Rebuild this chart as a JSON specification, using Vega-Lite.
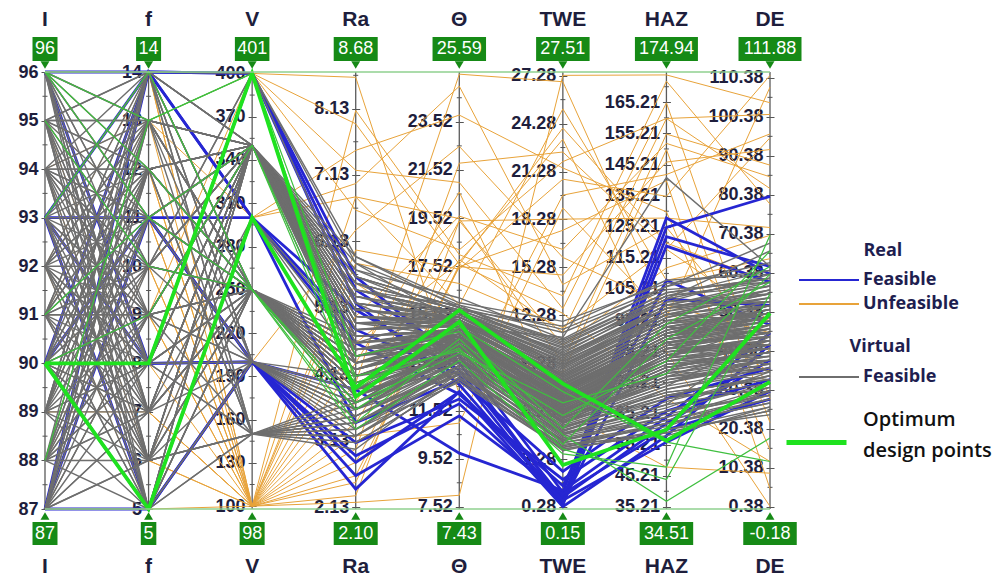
{
"$schema": "https://vega.github.io/schema/vega-lite/v6.json",
"width": 725, "height": 437,
"autosize": "none",
"padding": {"left": 45, "top": 72, "right": 238, "bottom": 68},
"background": "white",
"config": {
  "view": {"stroke": null},
  "axis": {"grid": false, "domain": false, "tickSize": 8, "tickColor": "#555555", "tickWidth": 1, "labelFont": "Liberation Sans", "labelFontWeight": "bold", "labelFontSize": 18, "labelColor": "#1e1e3c", "labelPadding": 3, "labelOverlap": false, "labelBound": false, "labelFlush": false},
  "legend": {"orient": "none", "direction": "vertical", "symbolType": "stroke", "symbolSize": 3600, "symbolStrokeWidth": 2, "labelFont": "Open Sans", "labelFontWeight": "bold", "labelFontSize": 18, "labelColor": "#1e1e50", "titleFont": "Open Sans", "titleFontWeight": "bold", "titleFontSize": 18, "titleColor": "#1e1e50", "labelOffset": 3, "padding": 0, "labelLimit": 300, "titleLimit": 300}
},
"datasets": {
  "axes": [
    {"key": "I", "title": "I", "min": 87, "max": 96, "lo": "87", "hi": "96", "ord": 0},
    {"key": "f", "title": "f", "min": 5, "max": 14, "lo": "5", "hi": "14", "ord": 1},
    {"key": "V", "title": "V", "min": 98, "max": 401, "lo": "98", "hi": "401", "ord": 2},
    {"key": "Ra", "title": "Ra", "min": 2.10, "max": 8.68, "lo": "2.10", "hi": "8.68", "ord": 3},
    {"key": "Th", "title": "Θ", "min": 7.43, "max": 25.59, "lo": "7.43", "hi": "25.59", "ord": 4},
    {"key": "TWE", "title": "TWE", "min": 0.15, "max": 27.51, "lo": "0.15", "hi": "27.51", "ord": 5},
    {"key": "HAZ", "title": "HAZ", "min": 34.51, "max": 174.94, "lo": "34.51", "hi": "174.94", "ord": 6},
    {"key": "DE", "title": "DE", "min": -0.18, "max": 111.88, "lo": "-0.18", "hi": "111.88", "ord": 7}
  ],
  "minor": [
    {"key":"I","v":87.5},{"key":"I","v":88.5},{"key":"I","v":89.5},{"key":"I","v":90.5},{"key":"I","v":91.5},{"key":"I","v":92.5},{"key":"I","v":93.5},{"key":"I","v":94.5},{"key":"I","v":95.5},
    {"key":"f","v":5.5},{"key":"f","v":6.5},{"key":"f","v":7.5},{"key":"f","v":8.5},{"key":"f","v":9.5},{"key":"f","v":10.5},{"key":"f","v":11.5},{"key":"f","v":12.5},{"key":"f","v":13.5},
    {"key":"V","v":115},{"key":"V","v":145},{"key":"V","v":175},{"key":"V","v":205},{"key":"V","v":235},{"key":"V","v":265},{"key":"V","v":295},{"key":"V","v":325},{"key":"V","v":355},{"key":"V","v":385},
    {"key":"Ra","v":2.63},{"key":"Ra","v":3.63},{"key":"Ra","v":4.63},{"key":"Ra","v":5.63},{"key":"Ra","v":6.63},{"key":"Ra","v":7.63},{"key":"Ra","v":8.63},
    {"key":"Th","v":8.52},{"key":"Th","v":10.52},{"key":"Th","v":12.52},{"key":"Th","v":14.52},{"key":"Th","v":16.52},{"key":"Th","v":18.52},{"key":"Th","v":20.52},{"key":"Th","v":22.52},{"key":"Th","v":24.52},
    {"key":"TWE","v":1.78},{"key":"TWE","v":4.78},{"key":"TWE","v":7.78},{"key":"TWE","v":10.78},{"key":"TWE","v":13.78},{"key":"TWE","v":16.78},{"key":"TWE","v":19.78},{"key":"TWE","v":22.78},{"key":"TWE","v":25.78},
    {"key":"HAZ","v":40.21},{"key":"HAZ","v":50.21},{"key":"HAZ","v":60.21},{"key":"HAZ","v":70.21},{"key":"HAZ","v":80.21},{"key":"HAZ","v":90.21},{"key":"HAZ","v":100.21},{"key":"HAZ","v":110.21},{"key":"HAZ","v":120.21},{"key":"HAZ","v":130.21},{"key":"HAZ","v":140.21},{"key":"HAZ","v":150.21},{"key":"HAZ","v":160.21},{"key":"HAZ","v":170.21},
    {"key":"DE","v":5.38},{"key":"DE","v":15.38},{"key":"DE","v":25.38},{"key":"DE","v":35.38},{"key":"DE","v":45.38},{"key":"DE","v":55.38},{"key":"DE","v":65.38},{"key":"DE","v":75.38},{"key":"DE","v":85.38},{"key":"DE","v":95.38},{"key":"DE","v":105.38}
  ],
  "lines": [
    {"id":1,"grp":"g","I":87,"f":6,"V":350,"Ra":5.2,"Th":14.1,"TWE":6.8,"HAZ":82,"DE":41},
    {"id":2,"grp":"g","I":88,"f":9,"V":250,"Ra":4.1,"Th":13.6,"TWE":5.9,"HAZ":75,"DE":38},
    {"id":3,"grp":"g","I":89,"f":12,"V":150,"Ra":3.5,"Th":13.2,"TWE":4.8,"HAZ":68,"DE":45},
    {"id":4,"grp":"g","I":90,"f":7,"V":350,"Ra":4.8,"Th":15.0,"TWE":8.2,"HAZ":92,"DE":52},
    {"id":5,"grp":"g","I":91,"f":10,"V":250,"Ra":3.9,"Th":14.5,"TWE":7.1,"HAZ":88,"DE":35},
    {"id":6,"grp":"g","I":92,"f":13,"V":200,"Ra":3.6,"Th":13.9,"TWE":5.2,"HAZ":71,"DE":30},
    {"id":7,"grp":"g","I":93,"f":6,"V":350,"Ra":5.6,"Th":15.4,"TWE":9.4,"HAZ":97,"DE":48},
    {"id":8,"grp":"g","I":94,"f":9,"V":250,"Ra":4.4,"Th":14.8,"TWE":6.3,"HAZ":84,"DE":44},
    {"id":9,"grp":"g","I":95,"f":12,"V":150,"Ra":3.2,"Th":12.9,"TWE":4.1,"HAZ":62,"DE":27},
    {"id":10,"grp":"g","I":96,"f":7,"V":350,"Ra":4.6,"Th":15.6,"TWE":10.3,"HAZ":101,"DE":55},
    {"id":11,"grp":"g","I":87,"f":13,"V":250,"Ra":3.7,"Th":14.2,"TWE":5.5,"HAZ":79,"DE":33},
    {"id":12,"grp":"g","I":88,"f":5,"V":350,"Ra":5.9,"Th":15.8,"TWE":11.2,"HAZ":105,"DE":58},
    {"id":13,"grp":"g","I":89,"f":8,"V":200,"Ra":3.3,"Th":13.4,"TWE":4.4,"HAZ":66,"DE":29},
    {"id":14,"grp":"g","I":90,"f":11,"V":350,"Ra":5.0,"Th":15.2,"TWE":7.7,"HAZ":90,"DE":47},
    {"id":15,"grp":"g","I":91,"f":14,"V":250,"Ra":4.3,"Th":14.9,"TWE":8.6,"HAZ":94,"DE":50},
    {"id":16,"grp":"g","I":92,"f":6,"V":150,"Ra":3.8,"Th":13.7,"TWE":5.0,"HAZ":73,"DE":36},
    {"id":17,"grp":"g","I":93,"f":9,"V":350,"Ra":4.9,"Th":14.6,"TWE":6.6,"HAZ":86,"DE":42},
    {"id":18,"grp":"g","I":94,"f":12,"V":250,"Ra":3.6,"Th":14.0,"TWE":6.0,"HAZ":78,"DE":39},
    {"id":19,"grp":"g","I":95,"f":5,"V":200,"Ra":3.9,"Th":13.1,"TWE":3.8,"HAZ":60,"DE":24},
    {"id":20,"grp":"g","I":96,"f":10,"V":350,"Ra":5.4,"Th":15.9,"TWE":9.8,"HAZ":99,"DE":53},
    {"id":21,"grp":"g","I":87,"f":10,"V":400,"Ra":5.8,"Th":15.1,"TWE":8.9,"HAZ":95,"DE":49},
    {"id":22,"grp":"g","I":88,"f":13,"V":350,"Ra":4.5,"Th":14.4,"TWE":7.3,"HAZ":87,"DE":46},
    {"id":23,"grp":"g","I":89,"f":6,"V":250,"Ra":4.0,"Th":13.8,"TWE":5.7,"HAZ":76,"DE":37},
    {"id":24,"grp":"g","I":90,"f":14,"V":150,"Ra":3.4,"Th":13.3,"TWE":4.6,"HAZ":64,"DE":31},
    {"id":25,"grp":"g","I":91,"f":7,"V":350,"Ra":5.3,"Th":15.5,"TWE":10.1,"HAZ":103,"DE":57},
    {"id":26,"grp":"g","I":92,"f":11,"V":250,"Ra":4.2,"Th":14.7,"TWE":7.9,"HAZ":91,"DE":51},
    {"id":27,"grp":"g","I":93,"f":14,"V":200,"Ra":3.7,"Th":14.3,"TWE":6.2,"HAZ":80,"DE":40},
    {"id":28,"grp":"g","I":94,"f":5,"V":350,"Ra":5.1,"Th":15.3,"TWE":8.4,"HAZ":93,"DE":45},
    {"id":29,"grp":"g","I":95,"f":8,"V":250,"Ra":3.8,"Th":13.5,"TWE":5.3,"HAZ":70,"DE":32},
    {"id":30,"grp":"g","I":96,"f":13,"V":150,"Ra":3.1,"Th":12.8,"TWE":4.2,"HAZ":58,"DE":26},
    {"id":31,"grp":"g","I":87,"f":7,"V":300,"Ra":4.7,"Th":14.9,"TWE":7.0,"HAZ":85,"DE":43},
    {"id":32,"grp":"g","I":88,"f":10,"V":350,"Ra":5.5,"Th":15.7,"TWE":11.6,"HAZ":108,"DE":60},
    {"id":33,"grp":"g","I":89,"f":14,"V":250,"Ra":4.6,"Th":14.6,"TWE":6.9,"HAZ":83,"DE":47},
    {"id":34,"grp":"g","I":90,"f":5,"V":200,"Ra":3.5,"Th":13.6,"TWE":5.1,"HAZ":69,"DE":34},
    {"id":35,"grp":"g","I":91,"f":8,"V":350,"Ra":4.4,"Th":14.2,"TWE":6.4,"HAZ":81,"DE":38},
    {"id":36,"grp":"g","I":92,"f":12,"V":250,"Ra":3.9,"Th":13.9,"TWE":5.8,"HAZ":77,"DE":42},
    {"id":37,"grp":"g","I":93,"f":5,"V":150,"Ra":3.6,"Th":13.0,"TWE":4.5,"HAZ":63,"DE":28},
    {"id":38,"grp":"g","I":94,"f":10,"V":350,"Ra":5.7,"Th":15.6,"TWE":9.1,"HAZ":98,"DE":54},
    {"id":39,"grp":"g","I":95,"f":13,"V":250,"Ra":4.0,"Th":14.4,"TWE":7.5,"HAZ":89,"DE":49},
    {"id":40,"grp":"g","I":96,"f":6,"V":200,"Ra":3.4,"Th":13.4,"TWE":4.9,"HAZ":67,"DE":35},
    {"id":41,"grp":"g","I":87,"f":12,"V":350,"Ra":4.3,"Th":14.0,"TWE":6.1,"HAZ":79,"DE":40},
    {"id":42,"grp":"g","I":88,"f":7,"V":250,"Ra":3.6,"Th":13.8,"TWE":5.6,"HAZ":74,"DE":44},
    {"id":43,"grp":"g","I":89,"f":10,"V":400,"Ra":5.2,"Th":15.3,"TWE":8.7,"HAZ":96,"DE":56},
    {"id":44,"grp":"g","I":90,"f":13,"V":250,"Ra":4.5,"Th":15.0,"TWE":7.6,"HAZ":88,"DE":46},
    {"id":45,"grp":"g","I":91,"f":5,"V":150,"Ra":3.3,"Th":12.7,"TWE":3.9,"HAZ":59,"DE":25},
    {"id":46,"grp":"g","I":92,"f":8,"V":350,"Ra":5.0,"Th":15.1,"TWE":8.0,"HAZ":91,"DE":48},
    {"id":47,"grp":"g","I":93,"f":11,"V":250,"Ra":3.8,"Th":14.1,"TWE":6.5,"HAZ":82,"DE":39},
    {"id":48,"grp":"g","I":94,"f":14,"V":200,"Ra":4.1,"Th":14.5,"TWE":7.2,"HAZ":86,"DE":43},
    {"id":49,"grp":"g","I":95,"f":6,"V":350,"Ra":4.7,"Th":14.8,"TWE":7.8,"HAZ":90,"DE":51},
    {"id":50,"grp":"g","I":96,"f":9,"V":250,"Ra":4.2,"Th":14.3,"TWE":6.7,"HAZ":84,"DE":37},
    {"id":51,"grp":"g","I":87,"f":9,"V":150,"Ra":3.0,"Th":13.1,"TWE":4.3,"HAZ":61,"DE":30},
    {"id":52,"grp":"g","I":88,"f":11,"V":350,"Ra":4.9,"Th":15.4,"TWE":9.6,"HAZ":100,"DE":53},
    {"id":53,"grp":"g","I":89,"f":5,"V":300,"Ra":4.3,"Th":14.6,"TWE":6.8,"HAZ":87,"DE":45},
    {"id":54,"grp":"g","I":90,"f":9,"V":250,"Ra":3.7,"Th":13.7,"TWE":5.4,"HAZ":72,"DE":33},
    {"id":55,"grp":"g","I":91,"f":12,"V":350,"Ra":5.6,"Th":15.8,"TWE":10.6,"HAZ":104,"DE":59},
    {"id":56,"grp":"g","I":92,"f":5,"V":250,"Ra":4.0,"Th":14.2,"TWE":6.2,"HAZ":80,"DE":41},
    {"id":57,"grp":"g","I":93,"f":8,"V":150,"Ra":3.5,"Th":13.3,"TWE":4.7,"HAZ":65,"DE":29},
    {"id":58,"grp":"g","I":94,"f":11,"V":350,"Ra":4.6,"Th":14.9,"TWE":7.4,"HAZ":89,"DE":47},
    {"id":59,"grp":"g","I":95,"f":14,"V":400,"Ra":5.9,"Th":16.0,"TWE":11.9,"HAZ":107,"DE":61},
    {"id":60,"grp":"g","I":96,"f":11,"V":250,"Ra":3.9,"Th":13.9,"TWE":5.9,"HAZ":76,"DE":36},
    {"id":61,"grp":"g","I":87,"f":14,"V":200,"Ra":3.2,"Th":13.2,"TWE":4.0,"HAZ":62,"DE":27},
    {"id":62,"grp":"g","I":88,"f":8,"V":350,"Ra":5.3,"Th":15.2,"TWE":8.5,"HAZ":94,"DE":50},
    {"id":63,"grp":"g","I":89,"f":11,"V":250,"Ra":4.4,"Th":14.7,"TWE":7.0,"HAZ":85,"DE":44},
    {"id":64,"grp":"g","I":90,"f":6,"V":350,"Ra":4.1,"Th":14.0,"TWE":6.3,"HAZ":78,"DE":38},
    {"id":65,"grp":"g","I":91,"f":9,"V":200,"Ra":3.6,"Th":13.5,"TWE":5.0,"HAZ":70,"DE":32},
    {"id":66,"grp":"g","I":92,"f":14,"V":350,"Ra":5.4,"Th":15.6,"TWE":9.9,"HAZ":102,"DE":66},
    {"id":67,"grp":"g","I":93,"f":7,"V":250,"Ra":4.1,"Th":14.4,"TWE":6.6,"HAZ":83,"DE":42},
    {"id":68,"grp":"g","I":94,"f":6,"V":150,"Ra":3.4,"Th":13.0,"TWE":4.4,"HAZ":64,"DE":30},
    {"id":69,"grp":"g","I":95,"f":10,"V":350,"Ra":5.0,"Th":15.0,"TWE":8.1,"HAZ":92,"DE":49},
    {"id":70,"grp":"g","I":96,"f":14,"V":250,"Ra":4.3,"Th":14.6,"TWE":7.1,"HAZ":87,"DE":45},
    {"id":71,"grp":"g","I":87,"f":8,"V":350,"Ra":4.8,"Th":15.3,"TWE":9.0,"HAZ":97,"DE":52},
    {"id":72,"grp":"g","I":88,"f":12,"V":250,"Ra":3.8,"Th":13.6,"TWE":5.2,"HAZ":71,"DE":34},
    {"id":73,"grp":"g","I":89,"f":7,"V":350,"Ra":5.7,"Th":16.2,"TWE":10.8,"HAZ":106,"DE":68},
    {"id":74,"grp":"g","I":90,"f":12,"V":250,"Ra":4.0,"Th":14.1,"TWE":6.4,"HAZ":81,"DE":40},
    {"id":75,"grp":"g","I":91,"f":6,"V":300,"Ra":4.5,"Th":14.3,"TWE":7.4,"HAZ":88,"DE":44},
    {"id":76,"grp":"g","I":92,"f":9,"V":350,"Ra":5.2,"Th":15.5,"TWE":9.3,"HAZ":99,"DE":55},
    {"id":77,"grp":"g","I":93,"f":12,"V":250,"Ra":3.9,"Th":13.8,"TWE":5.6,"HAZ":74,"DE":36},
    {"id":78,"grp":"g","I":94,"f":8,"V":200,"Ra":3.7,"Th":14.2,"TWE":6.8,"HAZ":85,"DE":41},
    {"id":79,"grp":"g","I":95,"f":11,"V":350,"Ra":4.6,"Th":14.7,"TWE":7.7,"HAZ":90,"DE":48},
    {"id":80,"grp":"g","I":96,"f":5,"V":250,"Ra":4.4,"Th":14.5,"TWE":6.0,"HAZ":79,"DE":43},
    {"id":81,"grp":"g","I":90,"f":10,"V":350,"Ra":5.5,"Th":15.0,"TWE":10.9,"HAZ":141,"DE":62},
    {"id":501,"grp":"g","I":87,"f":5,"V":250,"Ra":4.2,"Th":14.6,"TWE":7.2,"HAZ":86,"DE":46},
    {"id":502,"grp":"g","I":88,"f":14,"V":350,"Ra":5.1,"Th":15.4,"TWE":8.8,"HAZ":95,"DE":52},
    {"id":503,"grp":"g","I":89,"f":9,"V":350,"Ra":4.7,"Th":14.9,"TWE":7.9,"HAZ":91,"DE":49},
    {"id":504,"grp":"g","I":90,"f":12,"V":150,"Ra":3.3,"Th":13.1,"TWE":4.5,"HAZ":63,"DE":29},
    {"id":505,"grp":"g","I":91,"f":13,"V":250,"Ra":4.1,"Th":14.3,"TWE":6.5,"HAZ":82,"DE":41},
    {"id":506,"grp":"g","I":92,"f":7,"V":350,"Ra":5.5,"Th":15.7,"TWE":10.4,"HAZ":103,"DE":58},
    {"id":507,"grp":"g","I":93,"f":10,"V":250,"Ra":3.7,"Th":13.8,"TWE":5.5,"HAZ":73,"DE":35},
    {"id":508,"grp":"g","I":94,"f":13,"V":350,"Ra":4.8,"Th":15.1,"TWE":8.3,"HAZ":93,"DE":50},
    {"id":509,"grp":"g","I":95,"f":9,"V":200,"Ra":3.5,"Th":13.4,"TWE":4.9,"HAZ":68,"DE":31},
    {"id":510,"grp":"g","I":96,"f":12,"V":350,"Ra":5.1,"Th":15.2,"TWE":9.2,"HAZ":98,"DE":56},
    {"id":511,"grp":"g","I":87,"f":11,"V":250,"Ra":4.5,"Th":14.8,"TWE":7.3,"HAZ":88,"DE":47},
    {"id":512,"grp":"g","I":88,"f":6,"V":150,"Ra":3.4,"Th":13.2,"TWE":4.3,"HAZ":62,"DE":28},
    {"id":513,"grp":"g","I":89,"f":13,"V":350,"Ra":5.3,"Th":15.5,"TWE":9.7,"HAZ":100,"DE":57},
    {"id":514,"grp":"g","I":90,"f":8,"V":250,"Ra":3.9,"Th":14.0,"TWE":6.1,"HAZ":79,"DE":39},
    {"id":515,"grp":"g","I":91,"f":11,"V":350,"Ra":4.9,"Th":15.0,"TWE":8.2,"HAZ":92,"DE":51},
    {"id":516,"grp":"g","I":92,"f":10,"V":200,"Ra":3.8,"Th":13.7,"TWE":5.6,"HAZ":72,"DE":33},
    {"id":517,"grp":"g","I":93,"f":13,"V":350,"Ra":5.8,"Th":15.9,"TWE":11.4,"HAZ":106,"DE":63},
    {"id":518,"grp":"g","I":94,"f":7,"V":250,"Ra":4.3,"Th":14.5,"TWE":7.0,"HAZ":86,"DE":45},
    {"id":519,"grp":"g","I":95,"f":12,"V":350,"Ra":4.5,"Th":14.6,"TWE":7.6,"HAZ":89,"DE":46},
    {"id":520,"grp":"g","I":96,"f":8,"V":150,"Ra":3.2,"Th":12.9,"TWE":4.0,"HAZ":60,"DE":26},
    {"id":521,"grp":"g","I":87,"f":6,"V":250,"Ra":3.8,"Th":13.9,"TWE":5.8,"HAZ":76,"DE":38},
    {"id":522,"grp":"g","I":88,"f":9,"V":350,"Ra":5.0,"Th":15.3,"TWE":9.0,"HAZ":96,"DE":54},
    {"id":523,"grp":"g","I":89,"f":12,"V":250,"Ra":4.2,"Th":14.2,"TWE":6.7,"HAZ":84,"DE":43},
    {"id":524,"grp":"g","I":90,"f":7,"V":200,"Ra":3.6,"Th":13.6,"TWE":5.3,"HAZ":71,"DE":34},
    {"id":525,"grp":"g","I":91,"f":10,"V":350,"Ra":5.4,"Th":15.6,"TWE":10.0,"HAZ":101,"DE":60},
    {"id":526,"grp":"g","I":92,"f":13,"V":250,"Ra":4.4,"Th":14.9,"TWE":7.8,"HAZ":90,"DE":48},
    {"id":527,"grp":"g","I":93,"f":6,"V":150,"Ra":3.7,"Th":13.5,"TWE":4.8,"HAZ":66,"DE":32},
    {"id":528,"grp":"g","I":94,"f":9,"V":350,"Ra":4.5,"Th":14.7,"TWE":7.5,"HAZ":88,"DE":44},
    {"id":529,"grp":"g","I":95,"f":14,"V":250,"Ra":4.0,"Th":14.1,"TWE":6.3,"HAZ":80,"DE":40},
    {"id":530,"grp":"g","I":96,"f":7,"V":350,"Ra":5.6,"Th":15.8,"TWE":10.7,"HAZ":104,"DE":59},
    {"id":531,"grp":"g","I":87,"f":13,"V":350,"Ra":4.9,"Th":15.2,"TWE":8.6,"HAZ":94,"DE":53},
    {"id":532,"grp":"g","I":88,"f":8,"V":250,"Ra":4.3,"Th":14.4,"TWE":6.9,"HAZ":85,"DE":42},
    {"id":533,"grp":"g","I":89,"f":14,"V":150,"Ra":3.1,"Th":12.8,"TWE":3.9,"HAZ":59,"DE":25},
    {"id":534,"grp":"g","I":90,"f":10,"V":250,"Ra":4.6,"Th":14.8,"TWE":7.7,"HAZ":90,"DE":50},
    {"id":535,"grp":"g","I":91,"f":5,"V":350,"Ra":5.2,"Th":15.4,"TWE":9.4,"HAZ":97,"DE":55},
    {"id":536,"grp":"g","I":92,"f":8,"V":250,"Ra":3.7,"Th":13.7,"TWE":5.7,"HAZ":75,"DE":37},
    {"id":537,"grp":"g","I":93,"f":14,"V":350,"Ra":4.4,"Th":14.5,"TWE":7.1,"HAZ":87,"DE":45},
    {"id":538,"grp":"g","I":94,"f":11,"V":200,"Ra":3.9,"Th":14.0,"TWE":6.0,"HAZ":77,"DE":36},
    {"id":539,"grp":"g","I":95,"f":7,"V":250,"Ra":4.6,"Th":14.8,"TWE":8.0,"HAZ":91,"DE":52},
    {"id":540,"grp":"g","I":96,"f":10,"V":250,"Ra":4.1,"Th":14.2,"TWE":6.6,"HAZ":83,"DE":41},
    {"id":601,"grp":"g","I":87,"f":9,"V":350,"Ra":5.0,"Th":15.1,"TWE":8.4,"HAZ":93,"DE":51},
    {"id":602,"grp":"g","I":88,"f":12,"V":350,"Ra":4.6,"Th":14.8,"TWE":7.6,"HAZ":90,"DE":48},
    {"id":603,"grp":"g","I":89,"f":8,"V":250,"Ra":4.0,"Th":14.0,"TWE":6.2,"HAZ":80,"DE":40},
    {"id":604,"grp":"g","I":90,"f":11,"V":250,"Ra":4.3,"Th":14.6,"TWE":7.0,"HAZ":86,"DE":45},
    {"id":605,"grp":"g","I":91,"f":14,"V":350,"Ra":5.3,"Th":15.6,"TWE":9.5,"HAZ":99,"DE":57},
    {"id":606,"grp":"g","I":92,"f":6,"V":350,"Ra":4.9,"Th":15.0,"TWE":8.1,"HAZ":92,"DE":50},
    {"id":607,"grp":"g","I":93,"f":9,"V":250,"Ra":4.2,"Th":14.4,"TWE":6.8,"HAZ":84,"DE":43},
    {"id":608,"grp":"g","I":94,"f":12,"V":350,"Ra":5.5,"Th":15.7,"TWE":10.2,"HAZ":102,"DE":59},
    {"id":609,"grp":"g","I":95,"f":8,"V":350,"Ra":4.7,"Th":14.9,"TWE":7.9,"HAZ":91,"DE":49},
    {"id":610,"grp":"g","I":96,"f":11,"V":350,"Ra":5.0,"Th":15.3,"TWE":8.7,"HAZ":95,"DE":53},
    {"id":611,"grp":"g","I":87,"f":7,"V":250,"Ra":4.1,"Th":14.3,"TWE":6.4,"HAZ":82,"DE":42},
    {"id":612,"grp":"g","I":88,"f":11,"V":250,"Ra":4.4,"Th":14.7,"TWE":7.2,"HAZ":87,"DE":46},
    {"id":613,"grp":"g","I":89,"f":14,"V":350,"Ra":5.6,"Th":15.8,"TWE":10.5,"HAZ":103,"DE":61},
    {"id":614,"grp":"g","I":90,"f":6,"V":250,"Ra":3.8,"Th":13.9,"TWE":5.9,"HAZ":77,"DE":38},
    {"id":615,"grp":"g","I":91,"f":9,"V":350,"Ra":4.8,"Th":15.1,"TWE":8.3,"HAZ":93,"DE":51},
    {"id":616,"grp":"g","I":92,"f":12,"V":350,"Ra":5.2,"Th":15.4,"TWE":9.1,"HAZ":97,"DE":55},
    {"id":617,"grp":"g","I":93,"f":8,"V":350,"Ra":4.3,"Th":14.5,"TWE":7.3,"HAZ":88,"DE":47},
    {"id":618,"grp":"g","I":94,"f":5,"V":250,"Ra":4.1,"Th":14.2,"TWE":6.5,"HAZ":83,"DE":41},
    {"id":619,"grp":"g","I":95,"f":13,"V":350,"Ra":5.4,"Th":15.6,"TWE":9.8,"HAZ":100,"DE":58},
    {"id":620,"grp":"g","I":96,"f":6,"V":350,"Ra":4.9,"Th":15.2,"TWE":8.5,"HAZ":94,"DE":52},
    {"id":621,"grp":"g","I":87,"f":12,"V":250,"Ra":4.3,"Th":14.5,"TWE":6.9,"HAZ":85,"DE":44},
    {"id":622,"grp":"g","I":88,"f":7,"V":350,"Ra":5.4,"Th":15.5,"TWE":9.6,"HAZ":99,"DE":56},
    {"id":623,"grp":"g","I":89,"f":13,"V":250,"Ra":4.7,"Th":14.9,"TWE":7.8,"HAZ":90,"DE":49},
    {"id":624,"grp":"g","I":90,"f":9,"V":350,"Ra":4.5,"Th":14.7,"TWE":7.5,"HAZ":89,"DE":48},
    {"id":625,"grp":"g","I":91,"f":12,"V":250,"Ra":4.0,"Th":14.1,"TWE":6.3,"HAZ":81,"DE":40},
    {"id":626,"grp":"g","I":92,"f":7,"V":250,"Ra":4.5,"Th":14.6,"TWE":7.1,"HAZ":86,"DE":46},
    {"id":627,"grp":"g","I":93,"f":11,"V":350,"Ra":5.1,"Th":15.4,"TWE":9.2,"HAZ":96,"DE":54},
    {"id":628,"grp":"g","I":94,"f":10,"V":250,"Ra":4.2,"Th":14.3,"TWE":6.6,"HAZ":84,"DE":42},
    {"id":629,"grp":"g","I":95,"f":5,"V":350,"Ra":5.0,"Th":15.0,"TWE":8.2,"HAZ":92,"DE":50},
    {"id":630,"grp":"g","I":96,"f":13,"V":350,"Ra":4.7,"Th":14.8,"TWE":7.7,"HAZ":89,"DE":47},
    {"id":101,"grp":"o","I":88,"f":10,"V":100,"Ra":2.3,"Th":19.4,"TWE":18.3,"HAZ":128,"DE":72},
    {"id":102,"grp":"o","I":91,"f":6,"V":100,"Ra":2.6,"Th":17.5,"TWE":14.8,"HAZ":146,"DE":92},
    {"id":103,"grp":"o","I":94,"f":13,"V":100,"Ra":3.0,"Th":21.8,"TWE":22.5,"HAZ":118,"DE":48},
    {"id":104,"grp":"o","I":89,"f":12,"V":100,"Ra":3.4,"Th":17.8,"TWE":11.2,"HAZ":160,"DE":101},
    {"id":105,"grp":"o","I":95,"f":7,"V":100,"Ra":4.0,"Th":25.5,"TWE":26.9,"HAZ":98,"DE":35},
    {"id":106,"grp":"o","I":87,"f":9,"V":100,"Ra":5.0,"Th":19.6,"TWE":16.4,"HAZ":152,"DE":85},
    {"id":107,"grp":"o","I":92,"f":14,"V":100,"Ra":6.0,"Th":17.4,"TWE":20.8,"HAZ":135,"DE":111},
    {"id":108,"grp":"o","I":90,"f":5,"V":100,"Ra":6.8,"Th":15.9,"TWE":25.2,"HAZ":108,"DE":64},
    {"id":109,"grp":"o","I":93,"f":11,"V":100,"Ra":8.1,"Th":18.0,"TWE":13.5,"HAZ":172,"DE":78},
    {"id":110,"grp":"o","I":96,"f":8,"V":400,"Ra":8.6,"Th":12.2,"TWE":19.8,"HAZ":142,"DE":96},
    {"id":111,"grp":"o","I":88,"f":13,"V":400,"Ra":7.9,"Th":17.6,"TWE":24.0,"HAZ":120,"DE":58},
    {"id":112,"grp":"o","I":91,"f":9,"V":400,"Ra":7.2,"Th":21.0,"TWE":12.7,"HAZ":165,"DE":28},
    {"id":113,"grp":"o","I":94,"f":6,"V":300,"Ra":6.8,"Th":19.5,"TWE":9.3,"HAZ":155,"DE":88},
    {"id":114,"grp":"o","I":87,"f":11,"V":300,"Ra":7.5,"Th":23.8,"TWE":21.5,"HAZ":130,"DE":15},
    {"id":115,"grp":"o","I":90,"f":14,"V":100,"Ra":2.2,"Th":8.0,"TWE":27.3,"HAZ":174,"DE":104},
    {"id":116,"grp":"o","I":95,"f":10,"V":100,"Ra":2.8,"Th":17.5,"TWE":17.6,"HAZ":140,"DE":5},
    {"id":117,"grp":"o","I":89,"f":7,"V":100,"Ra":3.7,"Th":19.4,"TWE":10.4,"HAZ":112,"DE":70},
    {"id":118,"grp":"o","I":92,"f":5,"V":200,"Ra":6.3,"Th":22.5,"TWE":15.9,"HAZ":100,"DE":45},
    {"id":119,"grp":"o","I":93,"f":8,"V":100,"Ra":4.6,"Th":17.7,"TWE":23.3,"HAZ":85,"DE":0.5},
    {"id":120,"grp":"o","I":96,"f":12,"V":100,"Ra":5.5,"Th":14.0,"TWE":8.7,"HAZ":150,"DE":22},
    {"id":121,"grp":"o","I":88,"f":6,"V":100,"Ra":3.2,"Th":11.0,"TWE":19.0,"HAZ":96,"DE":108},
    {"id":122,"grp":"o","I":91,"f":13,"V":300,"Ra":7.0,"Th":25.0,"TWE":14.2,"HAZ":125,"DE":40},
    {"id":123,"grp":"o","I":94,"f":9,"V":100,"Ra":2.5,"Th":17.6,"TWE":12.4,"HAZ":70,"DE":12},
    {"id":124,"grp":"o","I":87,"f":14,"V":400,"Ra":6.6,"Th":18.2,"TWE":21.9,"HAZ":160,"DE":82},
    {"id":125,"grp":"o","I":90,"f":7,"V":100,"Ra":4.3,"Th":20.6,"TWE":6.2,"HAZ":48,"DE":9},
    {"id":126,"grp":"o","I":95,"f":11,"V":100,"Ra":5.8,"Th":16.8,"TWE":11.5,"HAZ":118,"DE":95},
    {"id":201,"grp":"b","I":96,"f":14,"V":400,"Ra":5.4,"Th":13.8,"TWE":1.2,"HAZ":128,"DE":60},
    {"id":202,"grp":"b","I":93,"f":14,"V":300,"Ra":5.1,"Th":13.2,"TWE":0.8,"HAZ":125,"DE":80},
    {"id":203,"grp":"b","I":90,"f":14,"V":400,"Ra":5.2,"Th":12.6,"TWE":0.5,"HAZ":119,"DE":58},
    {"id":204,"grp":"b","I":87,"f":14,"V":300,"Ra":4.6,"Th":12.2,"TWE":1.6,"HAZ":108,"DE":47},
    {"id":205,"grp":"b","I":93,"f":11,"V":300,"Ra":4.8,"Th":13.0,"TWE":0.4,"HAZ":122,"DE":62},
    {"id":206,"grp":"b","I":90,"f":11,"V":200,"Ra":2.8,"Th":12.3,"TWE":0.9,"HAZ":62,"DE":38},
    {"id":207,"grp":"b","I":87,"f":11,"V":200,"Ra":3.1,"Th":12.0,"TWE":2.0,"HAZ":66,"DE":33},
    {"id":208,"grp":"b","I":96,"f":8,"V":400,"Ra":5.6,"Th":13.5,"TWE":0.6,"HAZ":102,"DE":52},
    {"id":209,"grp":"b","I":93,"f":8,"V":200,"Ra":2.4,"Th":12.3,"TWE":0.3,"HAZ":58,"DE":42},
    {"id":210,"grp":"b","I":90,"f":8,"V":200,"Ra":2.6,"Th":11.3,"TWE":1.1,"HAZ":60,"DE":28},
    {"id":211,"grp":"b","I":93,"f":5,"V":200,"Ra":3.9,"Th":9.75,"TWE":1.3,"HAZ":64,"DE":45},
    {"id":212,"grp":"b","I":90,"f":5,"V":300,"Ra":3.4,"Th":12.8,"TWE":2.5,"HAZ":70,"DE":36},
    {"id":213,"grp":"b","I":87,"f":5,"V":200,"Ra":2.9,"Th":11.8,"TWE":0.7,"HAZ":56,"DE":30},
    {"id":301,"grp":"t","I":96,"f":13,"V":400,"Ra":4.4,"Th":14.8,"TWE":5.2,"HAZ":94,"DE":62},
    {"id":302,"grp":"t","I":96,"f":12,"V":250,"Ra":3.6,"Th":14.3,"TWE":4.2,"HAZ":89,"DE":58},
    {"id":303,"grp":"t","I":96,"f":11,"V":350,"Ra":4.1,"Th":14.0,"TWE":6.0,"HAZ":82,"DE":66},
    {"id":304,"grp":"t","I":93,"f":14,"V":250,"Ra":3.3,"Th":13.6,"TWE":3.6,"HAZ":48,"DE":70},
    {"id":305,"grp":"t","I":90,"f":9,"V":350,"Ra":3.9,"Th":15.0,"TWE":7.5,"HAZ":56,"DE":12},
    {"id":306,"grp":"t","I":95,"f":10,"V":250,"Ra":3.4,"Th":14.5,"TWE":4.8,"HAZ":37,"DE":18},
    {"id":307,"grp":"t","I":88,"f":13,"V":400,"Ra":4.0,"Th":14.1,"TWE":3.9,"HAZ":44,"DE":55},
    {"id":308,"grp":"t","I":91,"f":11,"V":250,"Ra":3.7,"Th":13.9,"TWE":6.8,"HAZ":78,"DE":60},
    {"id":401,"grp":"p","I":90,"f":8,"V":400,"Ra":3.79,"Th":15.2,"TWE":2.9,"HAZ":60,"DE":50},
    {"id":402,"grp":"p","I":90,"f":5,"V":300,"Ra":3.93,"Th":15.7,"TWE":8.0,"HAZ":56.5,"DE":32.4}
  ]
},
"layer": [
  {"data": {"name": "axes"}, "transform": [{"filter": "datum.ord == 0"}],
   "mark": {"type": "rule", "color": "#5a5a5a", "strokeWidth": 1.3},
   "encoding": {"x": {"field": "key", "type": "nominal", "scale": {"type": "point", "domain": ["I","f","V","Ra","Th","TWE","HAZ","DE"], "padding": 0}, "axis": null},
     "y": {"datum": 87, "type": "quantitative", "scale": {"domain": [87, 96], "nice": false, "zero": false}, "axis": {"orient": "left", "offset": -4, "title": null, "format": "d", "values": [87,88,89,90,91,92,93,94,95,96]}},
     "y2": {"datum": 96}}},
  {"data": {"name": "axes"}, "transform": [{"filter": "datum.ord == 1"}],
   "mark": {"type": "rule", "color": "#5a5a5a", "strokeWidth": 1.3},
   "encoding": {"x": {"field": "key", "type": "nominal", "scale": {"type": "point", "domain": ["I","f","V","Ra","Th","TWE","HAZ","DE"], "padding": 0}, "axis": null},
     "y": {"datum": 5, "type": "quantitative", "scale": {"domain": [5, 14], "nice": false, "zero": false}, "axis": {"orient": "left", "offset": -107.57, "title": null, "format": "d", "values": [5,6,7,8,9,10,11,12,13,14]}},
     "y2": {"datum": 14}}},
  {"data": {"name": "axes"}, "transform": [{"filter": "datum.ord == 2"}],
   "mark": {"type": "rule", "color": "#5a5a5a", "strokeWidth": 1.3},
   "encoding": {"x": {"field": "key", "type": "nominal", "scale": {"type": "point", "domain": ["I","f","V","Ra","Th","TWE","HAZ","DE"], "padding": 0}, "axis": null},
     "y": {"datum": 98, "type": "quantitative", "scale": {"domain": [98, 401], "nice": false, "zero": false}, "axis": {"orient": "left", "offset": -211.14, "title": null, "format": "d", "values": [100,130,160,190,220,250,280,310,340,370,400]}},
     "y2": {"datum": 401}}},
  {"data": {"name": "axes"}, "transform": [{"filter": "datum.ord == 3"}],
   "mark": {"type": "rule", "color": "#5a5a5a", "strokeWidth": 1.3},
   "encoding": {"x": {"field": "key", "type": "nominal", "scale": {"type": "point", "domain": ["I","f","V","Ra","Th","TWE","HAZ","DE"], "padding": 0}, "axis": null},
     "y": {"datum": 2.10, "type": "quantitative", "scale": {"domain": [2.10, 8.68], "nice": false, "zero": false}, "axis": {"orient": "left", "offset": -314.71, "title": null, "format": ".2f", "values": [2.13,3.13,4.13,5.13,6.13,7.13,8.13]}},
     "y2": {"datum": 8.68}}},
  {"data": {"name": "axes"}, "transform": [{"filter": "datum.ord == 4"}],
   "mark": {"type": "rule", "color": "#5a5a5a", "strokeWidth": 1.3},
   "encoding": {"x": {"field": "key", "type": "nominal", "scale": {"type": "point", "domain": ["I","f","V","Ra","Th","TWE","HAZ","DE"], "padding": 0}, "axis": null},
     "y": {"datum": 7.43, "type": "quantitative", "scale": {"domain": [7.43, 25.59], "nice": false, "zero": false}, "axis": {"orient": "left", "offset": -418.29, "title": null, "format": ".2f", "values": [7.52,9.52,11.52,13.52,15.52,17.52,19.52,21.52,23.52]}},
     "y2": {"datum": 25.59}}},
  {"data": {"name": "axes"}, "transform": [{"filter": "datum.ord == 5"}],
   "mark": {"type": "rule", "color": "#5a5a5a", "strokeWidth": 1.3},
   "encoding": {"x": {"field": "key", "type": "nominal", "scale": {"type": "point", "domain": ["I","f","V","Ra","Th","TWE","HAZ","DE"], "padding": 0}, "axis": null},
     "y": {"datum": 0.15, "type": "quantitative", "scale": {"domain": [0.15, 27.51], "nice": false, "zero": false}, "axis": {"orient": "left", "offset": -521.86, "title": null, "format": ".2f", "values": [0.28,3.28,6.28,9.28,12.28,15.28,18.28,21.28,24.28,27.28]}},
     "y2": {"datum": 27.51}}},
  {"data": {"name": "axes"}, "transform": [{"filter": "datum.ord == 6"}],
   "mark": {"type": "rule", "color": "#5a5a5a", "strokeWidth": 1.3},
   "encoding": {"x": {"field": "key", "type": "nominal", "scale": {"type": "point", "domain": ["I","f","V","Ra","Th","TWE","HAZ","DE"], "padding": 0}, "axis": null},
     "y": {"datum": 34.51, "type": "quantitative", "scale": {"domain": [34.51, 174.94], "nice": false, "zero": false}, "axis": {"orient": "left", "offset": -625.43, "title": null, "format": ".2f", "values": [35.21,45.21,55.21,65.21,75.21,85.21,95.21,105.21,115.21,125.21,135.21,145.21,155.21,165.21]}},
     "y2": {"datum": 174.94}}},
  {"data": {"name": "axes"}, "transform": [{"filter": "datum.ord == 7"}],
   "mark": {"type": "rule", "color": "#5a5a5a", "strokeWidth": 1.3},
   "encoding": {"x": {"field": "key", "type": "nominal", "scale": {"type": "point", "domain": ["I","f","V","Ra","Th","TWE","HAZ","DE"], "padding": 0}, "axis": null},
     "y": {"datum": -0.18, "type": "quantitative", "scale": {"domain": [-0.18, 111.88], "nice": false, "zero": false}, "axis": {"orient": "left", "offset": -729, "title": null, "format": ".2f", "values": [0.38,10.38,20.38,30.38,40.38,50.38,60.38,70.38,80.38,90.38,100.38,110.38]}},
     "y2": {"datum": 111.88}}},
  {"data": {"name": "minor"},
   "transform": [
     {"lookup": "key", "from": {"data": {"name": "axes"}, "key": "key", "fields": ["min","max"]}},
     {"calculate": "(datum.v - datum.min) / (datum.max - datum.min)", "as": "norm"}
   ],
   "mark": {"type": "tick", "orient": "horizontal", "size": 5, "thickness": 1, "color": "#555555", "opacity": 1},
   "encoding": {"x": {"field": "key", "type": "nominal", "scale": {"type": "point", "domain": ["I","f","V","Ra","Th","TWE","HAZ","DE"], "padding": 0}, "axis": null},
     "y": {"field": "norm", "type": "quantitative", "scale": {"domain": [0, 1]}, "axis": null}}},
  {
    "data": {"name": "lines"},
    "transform": [
      {"fold": ["I","f","V","Ra","Th","TWE","HAZ","DE"], "as": ["key","value"]},
      {"lookup": "key", "from": {"data": {"name": "axes"}, "key": "key", "fields": ["min","max","ord"]}},
      {"calculate": "(datum.value - datum.min) / (datum.max - datum.min)", "as": "norm"}
    ],
    "encoding": {
      "x": {"field": "key", "type": "nominal", "scale": {"type": "point", "domain": ["I","f","V","Ra","Th","TWE","HAZ","DE"], "padding": 0}, "axis": null},
      "y": {"field": "norm", "type": "quantitative", "scale": {"domain": [0, 1]}, "axis": null},
      "detail": {"field": "id", "type": "nominal"},
      "order": {"field": "ord", "type": "quantitative"}
    },
    "layer": [
      {"transform": [{"filter": "datum.grp == 'o'"}],
       "mark": {"type": "line", "strokeWidth": 1},
       "encoding": {"color": {"field": "grp", "type": "nominal", "scale": {"domain": ["o"], "range": ["#e8a33a"]},
         "legend": {"title": null, "labelExpr": "'Unfeasible'", "legendX": 753, "legendY": 201}}}},
      {"transform": [{"filter": "datum.grp == 'b'"}],
       "mark": {"type": "line", "strokeWidth": 2.8},
       "encoding": {"color": {"field": "grp", "type": "nominal", "scale": {"domain": ["b"], "range": ["#2626d2"]},
         "legend": {"title": "\u200b\u00a0\u00a0\u00a0\u00a0\u00a0\u00a0\u00a0\u00a0\u00a0\u00a0\u00a0\u00a0\u00a0\u00a0Real", "titlePadding": -11, "labelExpr": "'Feasible'", "legendX": 753, "legendY": 170}}}},
      {"transform": [{"filter": "datum.grp == 'g'"}],
       "mark": {"type": "line", "strokeWidth": 1.4},
       "encoding": {"color": {"field": "grp", "type": "nominal", "scale": {"domain": ["g"], "range": ["#6e6e6e"]},
         "legend": {"title": "\u200b\u00a0\u00a0\u00a0\u00a0\u00a0\u00a0\u00a0\u00a0\u00a0\u00a0\u00a0Virtual", "titlePadding": -10, "labelExpr": "'Feasible'", "legendX": 753, "legendY": 266}}}},
      {"transform": [{"filter": "datum.grp == 't'"}],
       "mark": {"type": "line", "strokeWidth": 1.2, "color": "#3fbf3f"}},
      {"transform": [{"filter": "datum.grp == 'p'"}],
       "mark": {"type": "line", "strokeWidth": 3.8},
       "encoding": {"color": {"field": "grp", "type": "nominal", "scale": {"domain": ["p"], "range": ["#1fe21f"]},
         "legend": {"title": null, "labelExpr": "['Optimum', 'design points']", "labelFontSize": 20, "labelFontWeight": 600, "labelColor": "#111111", "labelOffset": 14, "symbolStrokeWidth": 5, "legendX": 739, "legendY": 338,
           "encode": {"symbols": {"update": {"stroke": {"value": "#6cb33f"}}}, "labels": {"update": {"lineHeight": {"value": 31}, "dy": {"value": -23}}}}}}}}
    ],
    "resolve": {"scale": {"color": "independent"}}
  },
  {
    "data": {"name": "axes"},
    "transform": [
      {"calculate": "9.5 * length(datum.hi) + 6", "as": "bwh"},
      {"calculate": "9.5 * length(datum.lo) + 6", "as": "bwl"}
    ],
    "layer": [
      {"transform": [{"filter": "datum.ord == 0"}],
       "mark": {"type": "rule", "color": "#8fd08f", "strokeWidth": 1.5},
       "encoding": {"y": {"datum": 1, "type": "quantitative", "scale": {"domain": [0, 1]}, "axis": null}}},
      {"transform": [{"filter": "datum.ord == 0"}],
       "mark": {"type": "rule", "color": "#8fd08f", "strokeWidth": 1.5},
       "encoding": {"y": {"datum": 0, "type": "quantitative"}}},
      {"mark": {"type": "tick", "orient": "horizontal", "thickness": 24, "color": "#168a16", "opacity": 1, "yOffset": -23},
       "encoding": {"x": {"field": "key", "type": "nominal", "scale": {"type": "point", "domain": ["I","f","V","Ra","Th","TWE","HAZ","DE"], "padding": 0}, "axis": null}, "y": {"datum": 1, "type": "quantitative"}, "size": {"field": "bwh", "type": "quantitative", "scale": null}}},
      {"mark": {"type": "point", "shape": "triangle-down", "filled": true, "size": 80, "color": "#168a16", "opacity": 1, "yOffset": -7},
       "encoding": {"x": {"field": "key", "type": "nominal", "axis": null}, "y": {"datum": 1, "type": "quantitative"}}},
      {"mark": {"type": "text", "color": "white", "font": "Liberation Sans", "fontSize": 18, "baseline": "middle", "dy": -23},
       "encoding": {"x": {"field": "key", "type": "nominal", "axis": null}, "y": {"datum": 1, "type": "quantitative"}, "text": {"field": "hi"}}},
      {"mark": {"type": "tick", "orient": "horizontal", "thickness": 23, "color": "#168a16", "opacity": 1, "yOffset": 24.5},
       "encoding": {"x": {"field": "key", "type": "nominal", "axis": null}, "y": {"datum": 0, "type": "quantitative"}, "size": {"field": "bwl", "type": "quantitative", "scale": null}}},
      {"mark": {"type": "point", "shape": "triangle-up", "filled": true, "size": 80, "color": "#168a16", "opacity": 1, "yOffset": 7},
       "encoding": {"x": {"field": "key", "type": "nominal", "axis": null}, "y": {"datum": 0, "type": "quantitative"}}},
      {"mark": {"type": "text", "color": "white", "font": "Liberation Sans", "fontSize": 18, "baseline": "middle", "dy": 24.5},
       "encoding": {"x": {"field": "key", "type": "nominal", "axis": null}, "y": {"datum": 0, "type": "quantitative"}, "text": {"field": "lo"}}},
      {"mark": {"type": "text", "color": "#1e1e3c", "font": "Liberation Sans", "fontWeight": "bold", "fontSize": 21, "baseline": "middle", "dy": -52},
       "encoding": {"x": {"field": "key", "type": "nominal", "axis": null}, "y": {"datum": 1, "type": "quantitative"}, "text": {"field": "title"}}},
      {"mark": {"type": "text", "color": "#1e1e3c", "font": "Liberation Sans", "fontWeight": "bold", "fontSize": 21, "baseline": "middle", "dy": 58},
       "encoding": {"x": {"field": "key", "type": "nominal", "axis": null}, "y": {"datum": 0, "type": "quantitative"}, "text": {"field": "title"}}}
    ]
  }
],
"resolve": {"scale": {"y": "independent", "color": "independent"}}
}
